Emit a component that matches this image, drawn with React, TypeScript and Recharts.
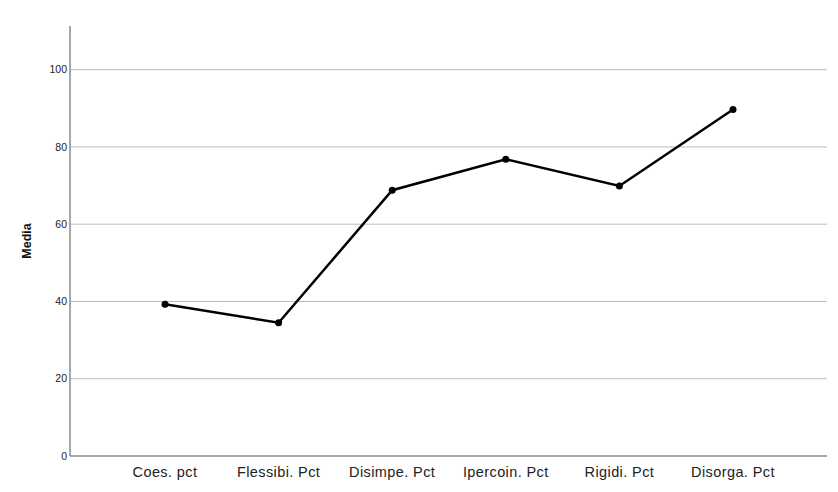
import React from 'react';
import { LineChart, Line, XAxis, YAxis, CartesianGrid } from 'recharts';

// categories and mean values
const categories = ['Coes. pct', 'Flessibi. Pct', 'Disimpe. Pct', 'Ipercoin. Pct', 'Rigidi. Pct', 'Disorga. Pct'];
const means = [39.3, 34.5, 68.8, 76.8, 69.9, 89.7];
const yTicks = [0, 20, 40, 60, 80, 100];

const data = categories.map((name, i) => ({ name, media: means[i] }));

const App: React.FC = () => {
  return (
    <div style={{ position: 'absolute', left: 0, top: 0, width: 838, height: 492, background: '#fff' }}>
      <LineChart
        width={838}
        height={492}
        data={data}
        margin={{ top: 26, right: 11, left: 10, bottom: 0 }}
        style={{ fontFamily: 'Arial, "Liberation Sans", sans-serif' }}
      >
        <CartesianGrid vertical={false} stroke="#bdbdbd" strokeWidth={1} horizontalValues={[20, 40, 60, 80, 100]} />
        <XAxis
          dataKey="name"
          height={36}
          padding={{ left: 95, right: 94 }}
          scale="point"
          axisLine={{ stroke: '#8a8a8a', strokeWidth: 1.5 }}
          tickLine={false}
          tick={{ fill: '#222', fontSize: 14.5, letterSpacing: 0.4 }}
          tickMargin={5}
        />
        <YAxis
          width={60}
          domain={[0, 111.3]}
          ticks={yTicks}
          axisLine={{ stroke: '#8a8a8a', strokeWidth: 1.5 }}
          tickLine={false}
          tickSize={2}
          tick={{ fill: '#222', fontSize: 10.5 }}
          tickMargin={1}
          label={{
            value: 'Media',
            angle: -90,
            position: 'insideLeft',
            offset: 17,
            style: { fontWeight: 'bold', fontSize: 12.5, fill: '#111', textAnchor: 'middle' }
          }}
        />
        <Line
          type="linear"
          dataKey="media"
          stroke="#000"
          strokeWidth={2.5}
          dot={{ r: 3.5, fill: '#000', stroke: '#000', strokeWidth: 0 }}
          activeDot={false}
          isAnimationActive={false}
        />
      </LineChart>
    </div>
  );
};

export default App;
